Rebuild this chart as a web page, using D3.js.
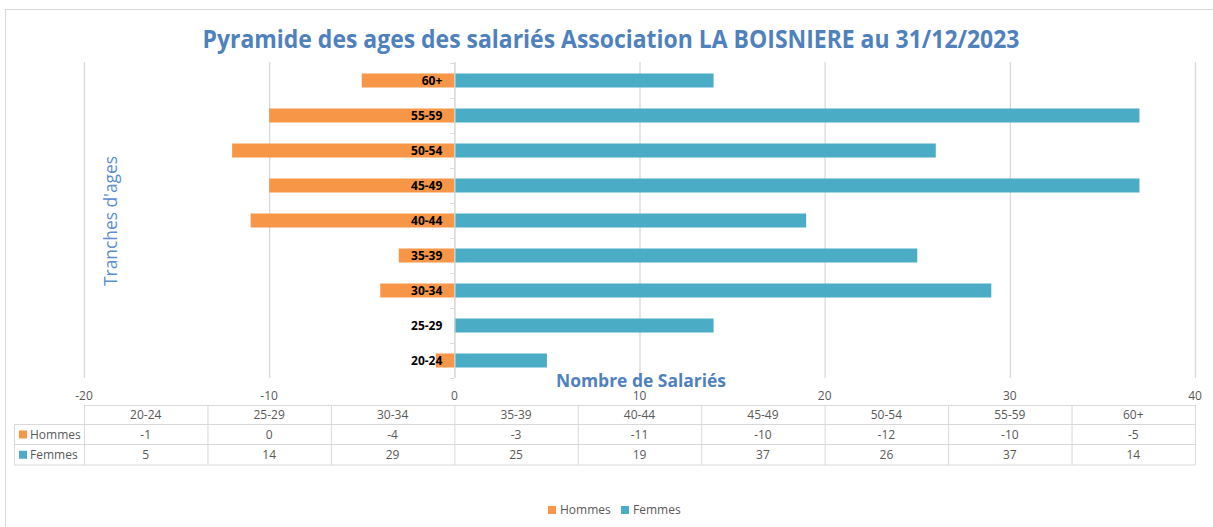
<!DOCTYPE html>
<html><head><meta charset="utf-8">
<script src="https://cdn.jsdelivr.net/npm/d3@7"></script>
<style>body{margin:0;background:#fff}svg{display:block}</style>
</head><body>
<svg id="c" width="1213" height="527"></svg>
<script>
const categories = ["20-24","25-29","30-34","35-39","40-44","45-49","50-54","55-59","60+"];
const hommes = [-1,0,-4,-3,-11,-10,-12,-10,-5];
const femmes = [5,14,29,25,19,37,26,37,14];
const xTicks = [-20,-10,0,10,20,30,40];
const seriesNames = ["Hommes","Femmes"];
const colors = {Hommes:"#F79646", Femmes:"#4BACC6"};
const FONT = "'Open Sans', 'Noto Sans', sans-serif";

const svg = d3.select("#c");
const W = 1213, H = 527;
// chart border
svg.append("rect").attr("x",5.5).attr("y",9.5).attr("width",W-4).attr("height",H).attr("fill","none").attr("stroke","#d9d9d9");

const x = d3.scaleLinear().domain([-20,40]).range([84,1195]);
const y = d3.scaleBand().domain(categories.slice().reverse()).range([63,378]).paddingInner(0.6).paddingOuter(0.3);
const yb = d3.scaleBand().domain(categories.slice().reverse()).range([63,378]);

// gridlines
svg.append("g").selectAll("line").data(xTicks).join("line")
  .attr("x1",d=>x(d)+0.5).attr("x2",d=>x(d)+0.5).attr("y1",62).attr("y2",378)
  .attr("stroke","#d9d9d9").attr("stroke-width",1.3);

// tick labels
svg.append("g").selectAll("text").data(xTicks).join("text")
  .attr("x",d=>x(d)).attr("y",400).attr("text-anchor","middle")
  .attr("font-family",FONT).attr("font-size",12).attr("fill","#595959").text(d=>d);

// bars
const bars = svg.append("g");
bars.selectAll("rect.h").data(categories).join("rect").attr("class","h")
  .attr("x",(d,i)=>x(Math.min(0,hommes[i]))).attr("width",(d,i)=>Math.abs(x(hommes[i])-x(0)))
  .attr("y",d=>y(d)).attr("height",y.bandwidth()).attr("fill",colors.Hommes);
bars.selectAll("rect.f").data(categories).join("rect").attr("class","f")
  .attr("x",x(0)).attr("width",(d,i)=>x(femmes[i])-x(0))
  .attr("y",d=>y(d)).attr("height",y.bandwidth()).attr("fill",colors.Femmes);

// y axis line at 0 with ticks
const ax = svg.append("g");
ax.append("line").attr("x1",x(0)+0.5).attr("x2",x(0)+0.5).attr("y1",62).attr("y2",378).attr("stroke","#d9d9d9").attr("stroke-width",1.3);
const bounds = categories.map(c=>yb(c)).concat([378]);
ax.selectAll("line.t").data(bounds).join("line").attr("class","t")
  .attr("x1",x(0)-4).attr("x2",x(0)).attr("y1",d=>d+0.5).attr("y2",d=>d+0.5).attr("stroke","#d9d9d9");

// category labels
svg.append("g").selectAll("text").data(categories).join("text")
  .attr("x",x(0)-12).attr("y",d=>y(d)+y.bandwidth()/2).attr("dy","0.35em").attr("text-anchor","end")
  .attr("font-family",FONT).attr("font-weight","bold").attr("font-size",12).attr("fill","#000").text(d=>d);

// title
const t = svg.append("text").attr("x",611).attr("y",48).attr("text-anchor","middle")
  .attr("font-family",FONT).attr("font-weight","bold").attr("font-size",25).attr("fill","#4F81BD")
  .text("Pyramide des ages des salariés Association LA BOISNIERE au 31/12/2023");
t.attr("textLength",817).attr("lengthAdjust","spacingAndGlyphs");

// axis titles
svg.append("text").attr("x",641).attr("y",387).attr("text-anchor","middle")
  .attr("font-family",FONT).attr("font-weight","bold").attr("font-size",17).attr("fill","#4F81BD")
  .attr("textLength",170).attr("lengthAdjust","spacingAndGlyphs").text("Nombre de Salariés");
svg.append("text").attr("transform","translate(117,221) rotate(-90)").attr("text-anchor","middle")
  .attr("font-family",FONT).attr("font-size",19).attr("fill","#5B8FD0")
  .attr("textLength",130).attr("lengthAdjust","spacingAndGlyphs").text("Tranches d'ages");

// data table
const tb = svg.append("g");
const cx = d3.scaleBand().domain(categories).range([84,1195]);
const rowsY = [405,424.5,444.5,465];
const grid = "#d9d9d9";
tb.append("line").attr("x1",84).attr("x2",1195).attr("y1",rowsY[0]+0.5).attr("y2",rowsY[0]+0.5).attr("stroke",grid);
[1,2,3].forEach(r=>tb.append("line").attr("x1",14).attr("x2",1195).attr("y1",rowsY[r]).attr("y2",rowsY[r]).attr("stroke",grid));
tb.append("line").attr("x1",14.5).attr("x2",14.5).attr("y1",rowsY[1]).attr("y2",rowsY[3]).attr("stroke",grid);
tb.selectAll("line.v").data(categories.map(c=>cx(c)).concat([1195])).join("line").attr("class","v")
  .attr("x1",d=>d+0.5).attr("x2",d=>d+0.5).attr("y1",rowsY[0]).attr("y2",rowsY[3]).attr("stroke",grid);
const cellText = (vals,row)=>tb.append("g").selectAll("text").data(vals).join("text")
  .attr("x",(d,i)=>cx(categories[i])+cx.bandwidth()/2).attr("y",(rowsY[row]+rowsY[row+1])/2).attr("dy","0.35em")
  .attr("text-anchor","middle").attr("font-family",FONT).attr("font-size",12).attr("fill","#595959").text(d=>d);
cellText(categories,0); cellText(hommes,1); cellText(femmes,2);
seriesNames.forEach((s,i)=>{
  const yy=(rowsY[i+1]+rowsY[i+2])/2;
  tb.append("rect").attr("x",19).attr("y",yy-4).attr("width",8).attr("height",8).attr("fill",colors[s]);
  tb.append("text").attr("x",30).attr("y",yy).attr("dy","0.35em").attr("font-family",FONT).attr("font-size",12).attr("fill","#595959").text(s);
});

// legend
const lg = svg.append("g");
const lx = [548,621];
seriesNames.forEach((s,i)=>{
  lg.append("rect").attr("x",lx[i]).attr("y",506).attr("width",8).attr("height",8).attr("fill",colors[s]);
  lg.append("text").attr("x",lx[i]+12).attr("y",510).attr("dy","0.35em").attr("font-family",FONT).attr("font-size",12).attr("fill","#595959").text(s);
});
</script>
</body></html>
